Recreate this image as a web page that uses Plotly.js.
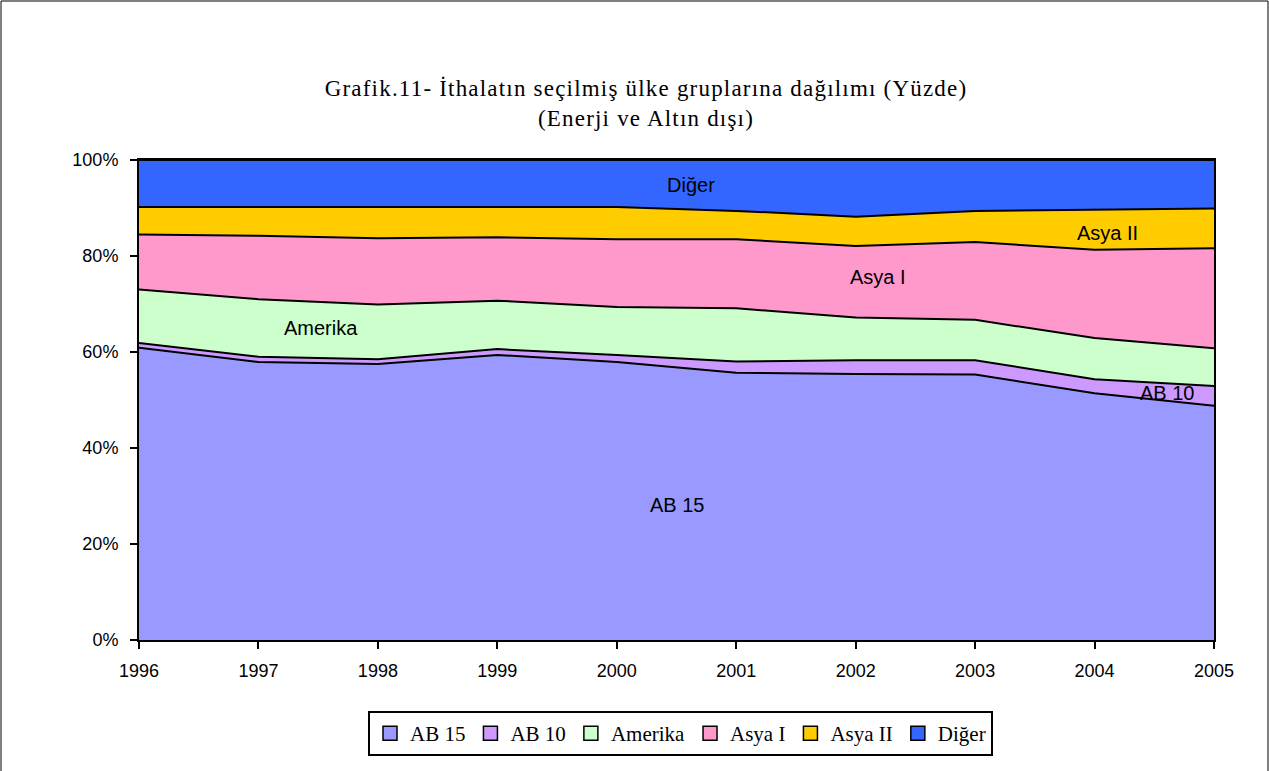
<!DOCTYPE html>
<html>
<head>
<meta charset="utf-8">
<script src="https://cdn.plot.ly/plotly-3.0.1.min.js"></script>
<style>
html,body{margin:0;padding:0;background:#fff;}
#chart{width:1269px;height:771px;}
.gtitle{letter-spacing:1.2px;}
</style>
</head>
<body>
<div id="chart"></div>
<script>
const years = [1996, 1997, 1998, 1999, 2000, 2001, 2002, 2003, 2004, 2005];
const ab15 = [60.9, 57.9, 57.5, 59.4, 57.9, 55.7, 55.4, 55.3, 51.4, 48.8];
const ab10 = [1.0, 1.1, 1.0, 1.2, 1.5, 2.3, 2.9, 3.0, 2.9, 4.1];
const amerika = [11.1, 12.0, 11.4, 10.1, 10.0, 11.1, 8.9, 8.4, 8.6, 7.9];
const asya1 = [11.5, 13.2, 13.8, 13.2, 14.1, 14.4, 14.9, 16.2, 18.4, 20.8];
const asya2 = [5.7, 6.0, 6.6, 6.3, 6.7, 5.9, 6.1, 6.5, 8.3, 8.3];
const diger = [9.8, 9.8, 9.7, 9.8, 9.8, 10.6, 11.8, 10.6, 10.4, 10.1];
const seriesNames = ["AB 15", "AB 10", "Amerika", "Asya I", "Asya II", "Diğer"];
const seriesValues = [ab15, ab10, amerika, asya1, asya2, diger];
const seriesColors = ["#9999FF", "#CC99FF", "#CCFFCC", "#FF99CC", "#FFCC00", "#3366FF"];
const yTicks = [0, 20, 40, 60, 80, 100];
const yTickText = ["0%", "20%", "40%", "60%", "80%", "100%"];
const areaLabels = [
  {text: "Diğer", x: 2000.62, y: 94.8},
  {text: "Asya II", x: 2004.11, y: 84.8},
  {text: "Asya I", x: 2002.19, y: 75.6},
  {text: "Amerika", x: 1997.52, y: 65.0},
  {text: "AB 10", x: 2004.61, y: 51.5},
  {text: "AB 15", x: 2000.5, y: 28.1}
];

const areaTraces = seriesNames.map((n, i) => ({
  type: "scatter",
  mode: "lines",
  name: n,
  x: years,
  y: seriesValues[i],
  stackgroup: "one",
  fillcolor: seriesColors[i],
  line: {color: "#000000", width: 2},
  showlegend: false,
  legendgroup: n
}));
const legendTraces = seriesNames.map((n, i) => ({
  type: "scatter",
  mode: "markers",
  name: n,
  x: [null],
  y: [null],
  marker: {symbol: "square", size: 14, color: seriesColors[i], line: {color: "#000", width: 1.5}},
  showlegend: true,
  legendgroup: n
}));

const L = 139, R = 1214, T = 160, B = 640, W = 1269, H = 771;
const pw = R - L, ph = B - T;
const tickFont = {family: "Liberation Sans, Arial, sans-serif", size: 18, color: "#000"};

const layout = {
  width: W, height: H,
  margin: {l: L, r: W - R, t: T, b: H - B, pad: 0},
  paper_bgcolor: "#ffffff",
  plot_bgcolor: "#ffffff",
  showlegend: true,
  title: {
    text: "Grafik.11- İthalatın seçilmiş ülke gruplarına dağılımı (Yüzde)<br>(Enerji ve Altın dışı)",
    font: {family: "Liberation Serif, Times New Roman, serif", size: 23, color: "#000"},
    x: 646 / W, xanchor: "center", xref: "container",
    y: 1 - 96 / H, yanchor: "middle", yref: "container"
  },
  xaxis: {
    range: [1996, 2005],
    tickvals: years,
    ticktext: years.map(String),
    ticks: "outside", ticklen: 7, tickcolor: "#000", tickwidth: 2,
    ticklabelstandoff: 6,
    showgrid: false, zeroline: false,
    showline: true, linecolor: "#000", linewidth: 2, mirror: true,
    tickfont: tickFont
  },
  yaxis: {
    range: [0, 100],
    tickvals: yTicks,
    ticktext: yTickText,
    ticks: "outside", ticklen: 7, tickcolor: "#000", tickwidth: 2,
    ticklabelstandoff: 8,
    showgrid: false, zeroline: false,
    showline: true, linecolor: "#000", linewidth: 2, mirror: true,
    tickfont: tickFont
  },
  legend: {
    orientation: "h",
    x: (680.5 - L) / pw, xanchor: "center",
    y: (B - 711) / ph, yanchor: "top",
    bordercolor: "#000", borderwidth: 2,
    bgcolor: "#fff",
    font: {family: "Liberation Serif, Times New Roman, serif", size: 21, color: "#000"},
    itemwidth: 30,
    traceorder: "normal"
  },
  annotations: areaLabels.map(a => ({
    text: a.text, x: a.x, y: a.y, xref: "x", yref: "y",
    showarrow: false,
    font: {family: "Liberation Sans, Arial, sans-serif", size: 20, color: "#000"}
  })),
  shapes: [{
    type: "rect", xref: "paper", yref: "paper",
    x0: (1 - L) / pw, x1: (1268 - L) / pw,
    y0: (B - 772) / ph, y1: (B - 1) / ph,
    line: {color: "#000", width: 1}, fillcolor: "rgba(0,0,0,0)", layer: "below"
  }]
};

Plotly.newPlot("chart", areaTraces.concat(legendTraces), layout, {displayModeBar: false, staticPlot: true});
</script>
</body>
</html>
